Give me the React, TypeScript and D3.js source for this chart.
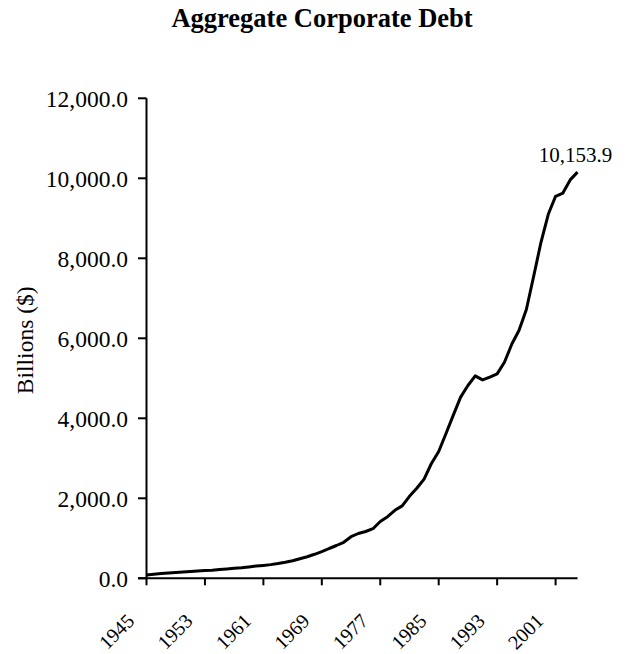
import React from "react";
import * as d3 from "d3";

// Aggregate corporate debt, billions of dollars, 1945–2004
const years: number[] = [
  1945, 1946, 1947, 1948, 1949, 1950, 1951, 1952, 1953, 1954,
  1955, 1956, 1957, 1958, 1959, 1960, 1961, 1962, 1963, 1964,
  1965, 1966, 1967, 1968, 1969, 1970, 1971, 1972, 1973, 1974,
  1975, 1976, 1977, 1978, 1979, 1980, 1981, 1982, 1983, 1984,
  1985, 1986, 1987, 1988, 1989, 1990, 1991, 1992, 1993, 1994,
  1995, 1996, 1997, 1998, 1999, 2000, 2001, 2002, 2003, 2004,
];

const debt: number[] = [
  85, 100, 118, 135, 145, 158, 172, 182, 192, 200,
  218, 235, 252, 265, 285, 305, 322, 342, 368, 400,
  440, 490, 540, 600, 665, 745, 820, 900, 1040, 1120,
  1170, 1240, 1420, 1540, 1700, 1810, 2050, 2250, 2480, 2870,
  3170, 3620, 4080, 4530, 4820, 5060, 4960, 5030, 5110, 5400,
  5850, 6200, 6720, 7550, 8400, 9100, 9550, 9630, 9960, 10153.9,
];

const yTicks: number[] = [0, 2000, 4000, 6000, 8000, 10000, 12000];
const xTickYears: number[] = [1945, 1953, 1961, 1969, 1977, 1985, 1993, 2001];

const title = "Aggregate Corporate Debt";
const yLabel = "Billions ($)";

const W = 634;
const H = 654;
const FONT = "'Times New Roman', 'Liberation Serif', serif";

export default function App() {
  const x = d3.scaleLinear().domain([1945, 2004]).range([146.5, 577.5]);
  const y = d3.scaleLinear().domain([0, 12000]).range([578.3, 98.3]);
  const fmt = d3.format(",.1f");

  const pts: [number, number][] = years.map((yr, i) => [yr, debt[i]]);
  const line = d3
    .line<[number, number]>()
    .x((d) => x(d[0]))
    .y((d) => y(d[1]));

  const x0 = x.range()[0];
  const x1 = x.range()[1];
  const y0 = y(0);
  const lastYear = years[years.length - 1];
  const lastVal = debt[debt.length - 1];

  return (
    <svg
      width={W}
      height={H}
      viewBox={`0 0 ${W} ${H}`}
      style={{ position: "absolute", left: 0, top: 0, background: "#fff" }}
      fontFamily={FONT}
    >
      <rect x={0} y={0} width={W} height={H} fill="#fff" />
      <text x={322} y={27} textAnchor="middle" fontSize={26.5} fontWeight="bold" fill="#000">
        {title}
      </text>

      {/* y axis */}
      <line x1={x0} x2={x0} y1={y(12000)} y2={y0} stroke="#000" strokeWidth={2} />
      {yTicks.map((t) => (
        <g key={t}>
          <line x1={x0 - 8.5} x2={x0} y1={y(t)} y2={y(t)} stroke="#000" strokeWidth={2} />
          <text x={128} y={y(t)} dy="0.35em" textAnchor="end" fontSize={23.5} fill="#000">
            {fmt(t)}
          </text>
        </g>
      ))}
      <text
        transform={`translate(33, ${(y(0) + y(12000)) / 2 + 2}) rotate(-90)`}
        textAnchor="middle"
        fontSize={23.5}
        fill="#000"
      >
        {yLabel}
      </text>

      {/* x axis */}
      <line x1={x0 - 8.5} x2={x1} y1={y0} y2={y0} stroke="#000" strokeWidth={2} />
      {xTickYears.map((yr) => (
        <g key={yr}>
          <line x1={x(yr)} x2={x(yr)} y1={y0} y2={y0 + 7} stroke="#000" strokeWidth={2} />
          <text
            transform={`translate(${x(yr) - 11}, ${y0 + 44}) rotate(-45)`}
            textAnchor="end"
            fontSize={20}
            fill="#000"
          >
            {yr}
          </text>
        </g>
      ))}

      {/* series */}
      <path d={line(pts) ?? ""} fill="none" stroke="#000" strokeWidth={3} strokeLinejoin="round" />
      <text x={x(lastYear) - 2} y={y(lastVal) - 10} textAnchor="middle" fontSize={21} fill="#000">
        {fmt(lastVal)}
      </text>
    </svg>
  );
}
